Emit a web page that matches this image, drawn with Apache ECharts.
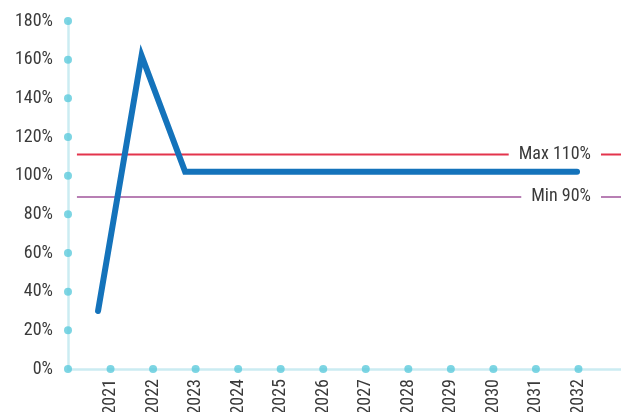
<!DOCTYPE html>
<html>
<head>
<meta charset="utf-8">
<script src="https://cdn.jsdelivr.net/npm/echarts@6/dist/echarts.min.js"></script>
<style>html,body{margin:0;padding:0;background:#fff}#c{width:621px;height:412px}</style>
</head>
<body>
<div id="c"></div>
<script>
const years = [2021, 2022, 2023, 2024, 2025, 2026, 2027, 2028, 2029, 2030, 2031, 2032];
const ratio = [30, 162, 102, 102, 102, 102, 102, 102, 102, 102, 102, 102];
const yTicks = [0, 20, 40, 60, 80, 100, 120, 140, 160, 180];
const limitValues = [111, 89];
const limitLabels = ['Max 110%', 'Min 90%'];
const limitColors = ['#e3344c', '#b87fb4'];

const FONT = "'Liberation Sans Narrow', 'Roboto Condensed', Roboto, sans-serif";
const AXIS_COLOR = '#cbecf2';
const DOT_COLOR = '#5ccadc';

const chart = echarts.init(document.getElementById('c'), null, {renderer: 'canvas'});

const series = [];
// limit lines (on dot axis)
limitValues.forEach((v, i) => {
  series.push({
    type: 'line', xAxisIndex: 0, yAxisIndex: 0, silent: true, z: 2,
    symbol: 'circle', symbolSize: 0, showSymbol: true,
    lineStyle: {color: limitColors[i], width: 2},
    itemStyle: {color: limitColors[i]},
    data: [
      [2020.21, v],
      {value: [2032.53, v], label: {show: true, position: 'left', distance: 0,
        formatter: limitLabels[i], color: '#3a3a3a', fontFamily: FONT, fontSize: 18,
        backgroundColor: '#ffffff', padding: [0, 10, 0, 10]}},
      [2033, v]
    ]
  });
});
// main line (on line axis)
series.push({
  type: 'line', xAxisIndex: 1, yAxisIndex: 0, z: 5, showSymbol: false, symbol: 'none',
  lineStyle: {color: '#1473bb', width: 6, cap: 'round', join: 'miter'},
  data: years.map((y, i) => [y, ratio[i]])
});
// axis dots
series.push({
  type: 'scatter', xAxisIndex: 0, yAxisIndex: 0, z: 6, silent: true, clip: false,
  symbolSize: 8, itemStyle: {color: DOT_COLOR},
  data: yTicks.map(v => [2020, v]).concat(years.map(y => [y, 0]))
});

chart.setOption({
  animation: false,
  grid: {left: 68, right: 0, top: 21, bottom: 43, containLabel: false, outerBoundsMode: 'none'},
  xAxis: [
    {type: 'value', min: 2020, max: 2033, interval: 1,
     axisLine: {show: true, lineStyle: {color: AXIS_COLOR, width: 2.5}},
     axisTick: {show: false}, splitLine: {show: false},
     axisLabel: {rotate: 90, margin: 10, color: '#3a3a3a', fontFamily: FONT, fontSize: 18,
       formatter: v => years.indexOf(v) >= 0 ? String(v) : ''}},
    {type: 'value', min: 2020.31, max: 2033.01, show: false}
  ],
  yAxis: [
    {type: 'value', min: 0, max: 180, interval: 20,
     axisLine: {show: true, lineStyle: {color: AXIS_COLOR, width: 2.5}},
     axisTick: {show: false}, splitLine: {show: false},
     axisLabel: {margin: 15, color: '#3a3a3a', fontFamily: FONT, fontSize: 18, formatter: '{value}%'}}
  ],
  series: series
});
</script>
</body>
</html>
